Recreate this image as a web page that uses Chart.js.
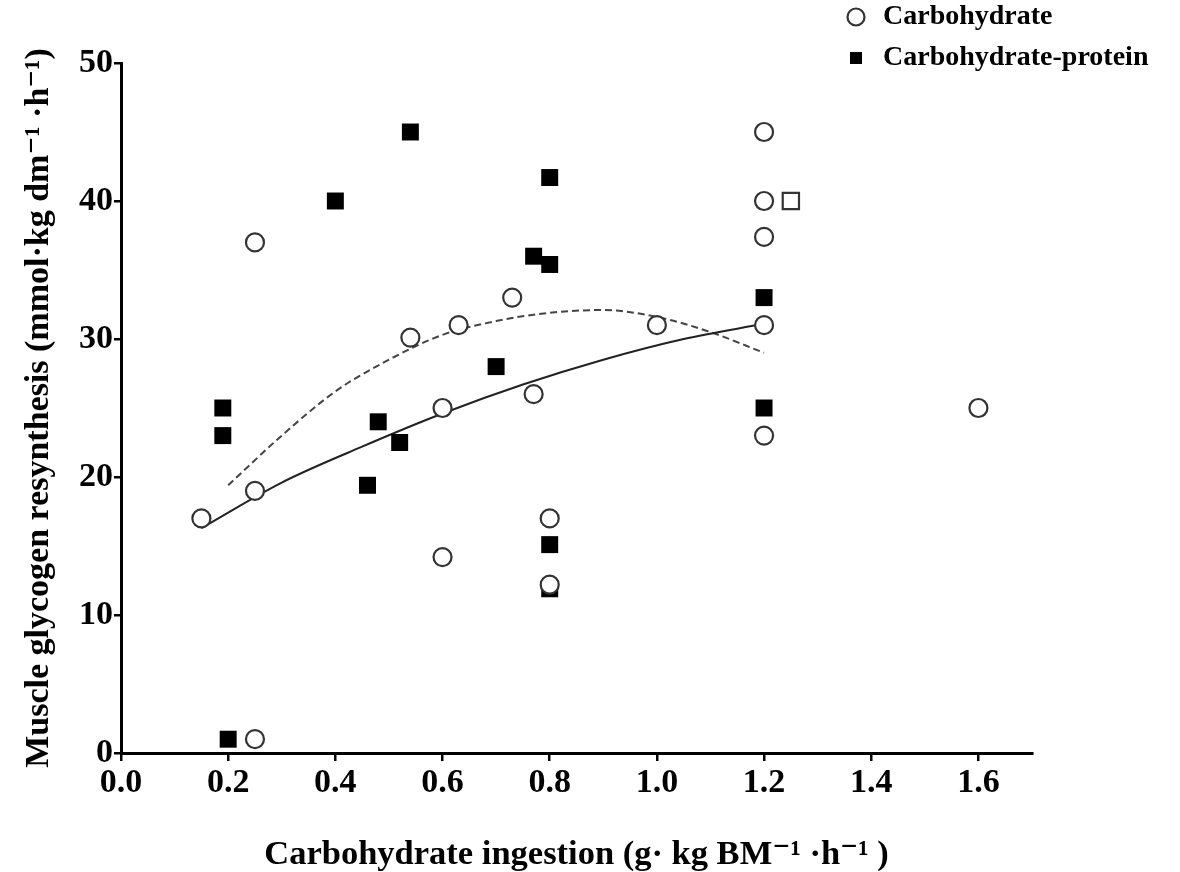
<!DOCTYPE html>
<html>
<head>
<meta charset="utf-8">
<script src="https://cdn.jsdelivr.net/npm/chart.js@4/dist/chart.umd.min.js"></script>
<style>
  html, body { margin: 0; padding: 0; background: #fff; }
  #wrap { width: 1180px; height: 872px; position: relative; }
</style>
</head>
<body>
<div id="wrap"><canvas id="c" width="1180" height="872"></canvas></div>
<script>
// ---- Data ----
const carbX = [0.15, 0.25, 0.25, 0.25, 0.54, 0.60, 0.60, 0.63, 0.73, 0.77, 0.80, 0.80, 1.00, 1.20, 1.20, 1.20, 1.20, 1.20, 1.60];
const carbY = [17.0, 37.0, 19.0, 1.0, 30.1, 25.0, 14.2, 31.0, 33.0, 26.0, 17.0, 12.2, 31.0, 45.0, 40.0, 37.4, 31.0, 23.0, 25.0];

const cpX = [0.19, 0.19, 0.20, 0.40, 0.46, 0.48, 0.52, 0.54, 0.70, 0.77, 0.80, 0.80, 0.80, 0.80, 1.20, 1.20];
const cpY = [25.0, 23.0, 1.0, 40.0, 19.4, 24.0, 22.5, 45.0, 28.0, 36.0, 35.4, 41.7, 15.1, 11.9, 33.0, 25.0];

const openSquareX = [1.25];
const openSquareY = [40.0];

// Fitted curves
const solidX = [0.15, 0.30, 0.45, 0.60, 0.75, 0.90, 1.05, 1.20];
const solidY = [16.3, 19.6, 22.2, 24.6, 26.7, 28.5, 30.0, 31.1];
const dashX = [0.20, 0.30, 0.40, 0.50, 0.60, 0.70, 0.80, 0.90, 1.00, 1.10, 1.20];
const dashY = [19.4, 23.0, 26.2, 28.5, 30.3, 31.3, 31.9, 32.1, 31.6, 30.5, 29.0];

const xTicks = [0.0, 0.2, 0.4, 0.6, 0.8, 1.0, 1.2, 1.4, 1.6];
const yTicks = [0, 10, 20, 30, 40, 50];

const seriesNames = ['Carbohydrate', 'Carbohydrate-protein'];
const xTitle = 'Carbohydrate ingestion (g\u00B7 kg BM\u207B\u00B9 \u00B7h\u207B\u00B9 )';
const yTitle = 'Muscle glycogen resynthesis (mmol\u00B7kg dm\u207B\u00B9 \u00B7h\u207B\u00B9)';

// ---- Build ----
const pts = (xs, ys) => xs.map((x, i) => ({ x: x, y: ys[i] }));
const SERIF = "'Liberation Serif', 'Times New Roman', 'DejaVu Serif', serif";

const legendMover = {
  id: 'legendMover',
  afterLayout(chart) {
    const lg = chart.legend;
    if (!lg) return;
    const w = lg.width, h = lg.height;
    lg.left = 830; lg.right = 830 + w;
    lg.top = -10; lg.bottom = -10 + h;
  }
};

new Chart(document.getElementById('c'), {
  type: 'scatter',
  data: {
    datasets: [
      {
        label: seriesNames[0],
        data: pts(carbX, carbY),
        pointStyle: 'circle',
        pointRadius: 9,
        pointHoverRadius: 9,
        backgroundColor: '#ffffff',
        borderColor: '#333333',
        borderWidth: 2.2,
        order: 1
      },
      {
        label: seriesNames[1],
        data: pts(cpX, cpY),
        pointStyle: 'rect',
        pointRadius: 12,
        pointHoverRadius: 12,
        backgroundColor: '#000000',
        borderColor: '#000000',
        borderWidth: 0,
        order: 3
      },
      {
        label: 'open square',
        data: pts(openSquareX, openSquareY),
        pointStyle: 'rect',
        pointRadius: 11.5,
        pointHoverRadius: 11.5,
        backgroundColor: '#ffffff',
        borderColor: '#333333',
        borderWidth: 2.2,
        order: 2
      },
      {
        type: 'line',
        label: 'fit1',
        data: pts(solidX, solidY),
        showLine: true,
        pointRadius: 0,
        borderColor: '#222222',
        borderWidth: 2,
        cubicInterpolationMode: 'monotone',
        fill: false,
        order: 4
      },
      {
        type: 'line',
        label: 'fit2',
        data: pts(dashX, dashY),
        showLine: true,
        pointRadius: 0,
        borderColor: '#444444',
        borderWidth: 2,
        borderDash: [7, 4],
        cubicInterpolationMode: 'monotone',
        fill: false,
        order: 5
      }
    ]
  },
  options: {
    responsive: false,
    animation: false,
    events: [],
    layout: { padding: { left: 0, top: 63, right: 148, bottom: 0 } },
    plugins: {
      tooltip: { enabled: false },
      legend: {
        position: 'chartArea',
        align: 'start',
        labels: {
          usePointStyle: true,
          boxWidth: 26,
          boxHeight: 12,
          padding: 13,
          color: '#000',
          font: { family: SERIF, size: 28, weight: 'bold' },
          filter: (item) => item.datasetIndex < 2
        }
      }
    },
    scales: {
      x: {
        type: 'linear',
        min: 0,
        max: 1.7,
        afterBuildTicks: (s) => { s.ticks = xTicks.map(v => ({ value: v })); },
        afterFit: (s) => { s.height = 119; },
        grid: { display: true, drawOnChartArea: false, drawTicks: true, tickLength: 8, color: '#000', lineWidth: 2.5 },
        border: { display: true, color: '#000', width: 3 },
        ticks: {
          color: '#000',
          padding: 2,
          maxRotation: 0,
          font: { family: SERIF, size: 34, weight: 'bold' },
          callback: (v) => Number(v).toFixed(1)
        },
        title: {
          display: true,
          text: xTitle,
          color: '#000',
          padding: { top: 0, bottom: 0 },
          font: { family: SERIF, size: 34.5, weight: 'bold', lineHeight: 1 }
        }
      },
      y: {
        type: 'linear',
        min: 0,
        max: 50,
        afterBuildTicks: (s) => { s.ticks = yTicks.map(v => ({ value: v })); },
        afterFit: (s) => { s.width = 121; },
        grid: { display: true, drawOnChartArea: false, drawTicks: true, tickLength: 7, color: '#000', lineWidth: 2.5 },
        border: { display: true, color: '#000', width: 3 },
        ticks: {
          color: '#000',
          padding: 1,
          font: { family: SERIF, size: 34, weight: 'bold' },
          callback: (v) => String(v)
        },
        title: {
          display: true,
          text: yTitle,
          color: '#000',
          padding: { top: 22, bottom: 0 },
          font: { family: SERIF, size: 34, weight: 'bold', lineHeight: 1 }
        }
      }
    }
  },
  plugins: [legendMover]
});
</script>
</body>
</html>
